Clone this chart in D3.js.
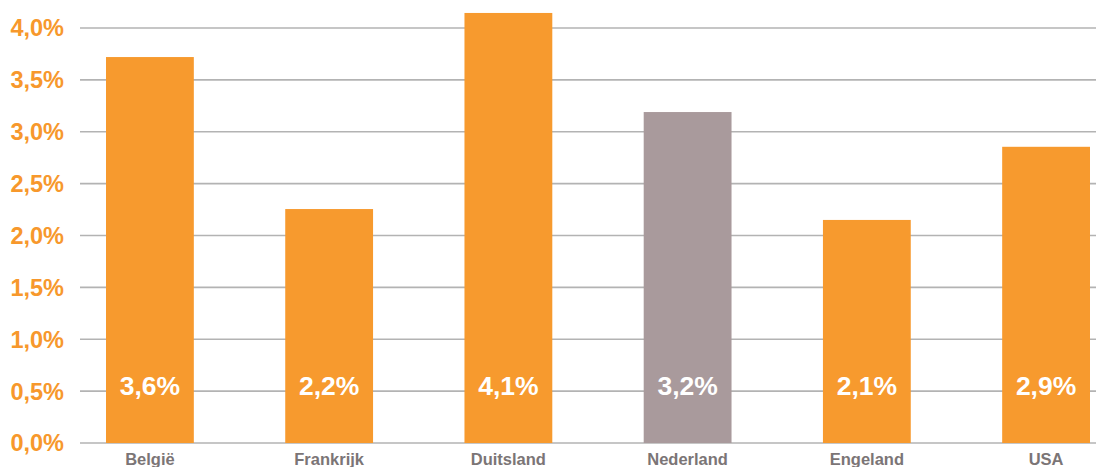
<!DOCTYPE html>
<html><head><meta charset="utf-8">
<script src="https://cdn.jsdelivr.net/npm/d3@7"></script>
<style>html,body{margin:0;padding:0;background:#fff;}svg{display:block;}</style>
</head><body><svg id="c" width="1096" height="467"></svg>
<script>
const categories = ["België","Frankrijk","Duitsland","Nederland","Engeland","USA"];
const values = [3.72, 2.255, 4.145, 3.19, 2.15, 2.855];
const valueLabels = ["3,6%","2,2%","4,1%","3,2%","2,1%","2,9%"];
const highlight = ["Nederland"];
const yTicks = [0,0.5,1,1.5,2,2.5,3,3.5,4];
const yTickLabels = ["0,0%","0,5%","1,0%","1,5%","2,0%","2,5%","3,0%","3,5%","4,0%"];

const svg = d3.select("#c");
const font = "'Liberation Sans', Arial, Helvetica, sans-serif";
const y = d3.scaleLinear().domain([0,4]).range([443,28]);
const x = d3.scaleBand().domain(categories).range([106,1090]).paddingInner(0.51).paddingOuter(0);

svg.append("g").selectAll("line").data(yTicks).join("line")
  .attr("x1",80).attr("x2",1096)
  .attr("y1",d=>y(d)).attr("y2",d=>y(d))
  .attr("stroke","#b3b3b3").attr("stroke-width",1.6);

svg.append("g").selectAll("text").data(yTicks).join("text")
  .attr("x",64).attr("y",d=>y(d)).attr("dy","0.36em")
  .attr("text-anchor","end").attr("fill","#f7982c")
  .attr("font-family",font).attr("font-weight","bold").attr("font-size",23.5)
  .text((d,i)=>yTickLabels[i]);

svg.append("g").selectAll("rect").data(categories).join("rect")
  .attr("x",d=>x(d)).attr("width",x.bandwidth())
  .attr("y",(d,i)=>y(values[i])).attr("height",(d,i)=>y(0)-y(values[i]))
  .attr("fill",d=>highlight.includes(d)?"#a99a9c":"#f79a2e");

svg.append("g").selectAll("text").data(categories).join("text")
  .attr("x",d=>x(d)+x.bandwidth()/2).attr("y",395)
  .attr("text-anchor","middle").attr("fill","#ffffff")
  .attr("font-family",font).attr("font-weight","bold").attr("font-size",26.5)
  .text((d,i)=>valueLabels[i]);

svg.append("g").selectAll("text").data(categories).join("text")
  .attr("x",d=>x(d)+x.bandwidth()/2).attr("y",464.5)
  .attr("text-anchor","middle").attr("fill","#7b7576")
  .attr("font-family",font).attr("font-weight","bold").attr("font-size",16.5)
  .text(d=>d);
</script></body></html>
